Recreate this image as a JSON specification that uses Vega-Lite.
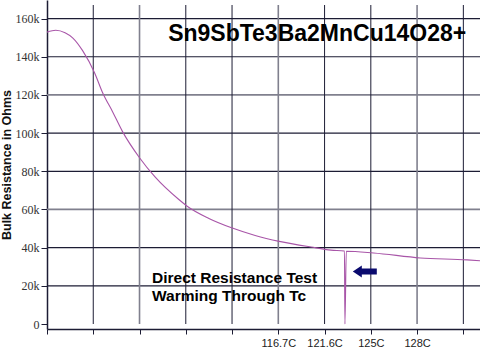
{
  "$schema": "https://vega.github.io/schema/vega-lite/v6.json",
  "width": 480,
  "height": 350,
  "autosize": {"type": "fit", "contains": "padding"},
  "padding": {"left": 0, "top": 0, "right": 0, "bottom": 2},
  "background": "white",
  "config": {"view": {"stroke": null}},
  "datasets": {
    "curve": [
      {"pos": 0.0, "kohm": 152.9},
      {"pos": 0.19, "kohm": 153.9},
      {"pos": 0.39, "kohm": 152.6},
      {"pos": 0.56, "kohm": 149.8},
      {"pos": 0.77, "kohm": 143.2},
      {"pos": 1.03, "kohm": 131.5},
      {"pos": 1.2, "kohm": 121.3},
      {"pos": 1.42, "kohm": 111.1},
      {"pos": 1.63, "kohm": 100.9},
      {"pos": 2.0, "kohm": 87.1},
      {"pos": 2.34, "kohm": 76.9},
      {"pos": 2.85, "kohm": 65.2},
      {"pos": 3.03, "kohm": 61.7},
      {"pos": 3.5, "kohm": 55.3},
      {"pos": 3.99, "kohm": 50.4},
      {"pos": 4.5, "kohm": 46.4},
      {"pos": 5.02, "kohm": 43.3},
      {"pos": 5.71, "kohm": 40.3},
      {"pos": 6.14, "kohm": 38.7},
      {"pos": 6.43, "kohm": 38.2},
      {"pos": 6.44, "kohm": 0},
      {"pos": 6.47, "kohm": 38.1},
      {"pos": 7.06, "kohm": 37.2},
      {"pos": 8.07, "kohm": 34.6},
      {"pos": 9.08, "kohm": 33.6},
      {"pos": 9.36, "kohm": 33.1}
    ],
    "notes": [
      {"pos": 2.27, "kohm": 23.9, "label": "Direct Resistance Test"},
      {"pos": 2.27, "kohm": 14.8, "label": "Warming Through Tc"}
    ],
    "heading": [
      {"pos": 5.84, "kohm": 151.8, "label": "Sn9SbTe3Ba2MnCu14O28+"}
    ],
    "arrow": [
      {"pos": 6.87, "kohm": 27.5}
    ],
    "vdark": [{"pos": 1}, {"pos": 3}, {"pos": 4}, {"pos": 6}, {"pos": 7}, {"pos": 9}],
    "vgray": [{"pos": 2}, {"pos": 5}, {"pos": 8}],
    "hdark": [{"level": 20}, {"level": 40}, {"level": 80}, {"level": 100}, {"level": 140}, {"level": 160}],
    "hgray": [{"level": 60}, {"level": 120}]
  },
  "layer": [
    {
      "data": {"name": "hdark"},
      "mark": {"type": "bar", "orient": "horizontal", "height": 1.2, "color": "#1c1c34", "opacity": 1},
      "encoding": {
        "x": {"datum": 9.36, "type": "quantitative"},
        "y": {"field": "level", "type": "quantitative"}
      }
    },
    {
      "data": {"name": "hgray"},
      "mark": {"type": "bar", "orient": "horizontal", "height": 1.8, "color": "#80808e", "opacity": 1},
      "encoding": {
        "x": {"datum": 9.36, "type": "quantitative"},
        "y": {"field": "level", "type": "quantitative"}
      }
    },
    {
      "data": {"name": "vdark"},
      "mark": {"type": "rule", "color": "#1c1c34", "strokeWidth": 1},
      "encoding": {
        "x": {"field": "pos", "type": "quantitative"},
        "y": {"datum": 0, "type": "quantitative"},
        "y2": {"datum": 167.1}
      }
    },
    {
      "data": {"name": "vgray"},
      "mark": {"type": "rule", "color": "#80808e", "strokeWidth": 1.6},
      "encoding": {
        "x": {"field": "pos", "type": "quantitative"},
        "y": {"datum": 0, "type": "quantitative"},
        "y2": {"datum": 167.1}
      }
    },
    {
      "data": {"name": "curve"},
      "mark": {"type": "line", "color": "#a855a8", "strokeWidth": 1.1, "clip": true, "interpolate": "monotone"},
      "encoding": {
        "x": {
          "field": "pos", "type": "quantitative",
          "scale": {"domain": [0, 9.36], "nice": false, "zero": false},
          "axis": {
            "values": [0, 1, 2, 3, 4, 5, 6, 7, 8, 9],
            "labelExpr": "datum.value == 5 ? '116.7C' : datum.value == 6 ? '121.6C' : datum.value == 7 ? '125C' : datum.value == 8 ? '128C' : ''",
            "title": null,
            "grid": false,
            "domainColor": "#1c1c34",
            "domainWidth": 1.5,
            "tickColor": "#1c1c34",
            "tickSize": 5,
            "labelFont": "Liberation Sans",
            "labelFontSize": 11,
            "labelColor": "#222222",
            "labelPadding": 3,
            "labelOverlap": false
          }
        },
        "y": {
          "field": "kohm", "type": "quantitative",
          "scale": {"domain": [0, 167.1], "nice": false},
          "axis": {
            "values": [0, 20, 40, 60, 80, 100, 120, 140, 160],
            "labelExpr": "datum.value == 0 ? '0' : datum.value + 'k'",
            "title": "Bulk Resistance in Ohms",
            "titleFont": "Liberation Sans",
            "titleFontSize": 12.5,
            "titleFontWeight": "bold",
            "titleColor": "#111111",
            "titlePadding": 2,
            "grid": false,
            "domainColor": "#1c1c34",
            "domainWidth": 1.5,
            "tickColor": "#1c1c34",
            "tickSize": 6,
            "labelFont": "Liberation Serif",
            "labelFontSize": 12,
            "labelColor": "#333333",
            "labelPadding": 2
          }
        }
      }
    },
    {
      "data": {"name": "heading"},
      "mark": {"type": "text", "font": "Liberation Sans", "fontSize": 23, "fontWeight": "bold", "color": "#000000", "align": "center", "baseline": "middle"},
      "encoding": {
        "x": {"field": "pos", "type": "quantitative"},
        "y": {"field": "kohm", "type": "quantitative"},
        "text": {"field": "label"}
      }
    },
    {
      "data": {"name": "notes"},
      "mark": {"type": "text", "font": "Liberation Sans", "fontSize": 15.5, "fontWeight": "bold", "color": "#000000", "align": "left", "baseline": "middle"},
      "encoding": {
        "x": {"field": "pos", "type": "quantitative"},
        "y": {"field": "kohm", "type": "quantitative"},
        "text": {"field": "label"}
      }
    },
    {
      "data": {"name": "arrow"},
      "mark": {"type": "point", "filled": true, "color": "#0a0a6e", "opacity": 1, "size": 576,
               "shape": "M -1 0 L -0.25 -0.5 L -0.25 -0.25 L 1 -0.25 L 1 0.25 L -0.25 0.25 L -0.25 0.5 Z"},
      "encoding": {
        "x": {"field": "pos", "type": "quantitative"},
        "y": {"field": "kohm", "type": "quantitative"}
      }
    }
  ]
}
